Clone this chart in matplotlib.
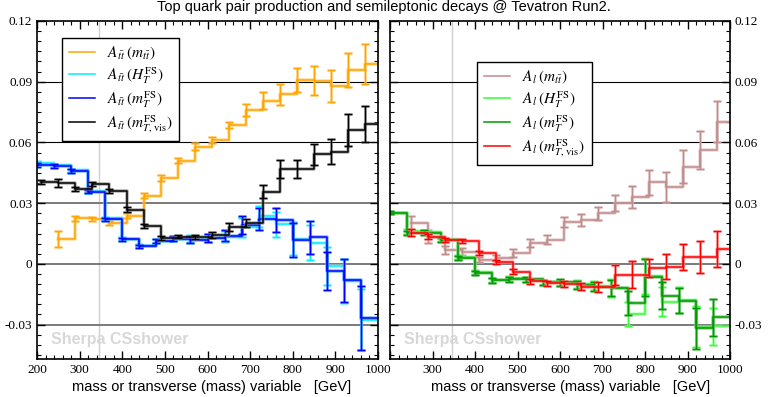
import numpy as np
import matplotlib
matplotlib.use("Agg")
import matplotlib.pyplot as plt
from matplotlib.ticker import MultipleLocator

plt.rcParams["mathtext.fontset"] = "stix"

# datos (x = borde izquierdo del bin, GeV)
x_orange = [250, 290, 330, 370, 410, 450, 490, 530, 570, 610, 650, 690, 730, 770, 810, 850, 890, 930, 970]
y_orange = [0.0123, 0.0226, 0.0221, 0.0201, 0.0237, 0.0336, 0.0423, 0.0510, 0.0579, 0.0612,
            0.0686, 0.0760, 0.0807, 0.0838, 0.0909, 0.0905, 0.0879, 0.0958, 0.0988]
e_orange = [0.0041, 0.0012, 0.0010, 0.0010, 0.0012, 0.0012, 0.0015, 0.0013, 0.0016, 0.0013,
            0.0016, 0.0031, 0.0044, 0.0053, 0.0059, 0.0072, 0.0078, 0.0086, 0.0099]

x_black = [210, 250, 290, 330, 370, 410, 450, 490, 530, 570, 610, 650, 690, 730, 770, 810, 850, 890, 930, 970]
y_black = [0.0405, 0.0400, 0.0370, 0.0393, 0.0360, 0.0267, 0.0188, 0.0127, 0.0135, 0.0135,
           0.0143, 0.0184, 0.0204, 0.0357, 0.0467, 0.0467, 0.0541, 0.0555, 0.0662, 0.0690]
e_black = [0.0010, 0.0020, 0.0012, 0.0010, 0.0010, 0.0012, 0.0010, 0.0010, 0.0008, 0.0010,
           0.0015, 0.0020, 0.0020, 0.0033, 0.0044, 0.0044, 0.0053, 0.0063, 0.0079, 0.0090]

x_blue = [200, 240, 280, 320, 360, 400, 440, 480, 520, 560, 600, 640, 680, 720, 760, 800, 840, 880, 920, 960]
y_blue = [0.0489, 0.0484, 0.0459, 0.0357, 0.0221, 0.0122, 0.0086, 0.0115, 0.0125, 0.0120,
          0.0128, 0.0140, 0.0193, 0.0222, 0.0217, 0.0118, 0.0132, -0.0035, -0.0082, -0.0268]
e_blue = [0.0008, 0.0008, 0.0008, 0.0008, 0.0008, 0.0008, 0.0008, 0.0010, 0.0012, 0.0019,
          0.0020, 0.0029, 0.0045, 0.0053, 0.0058, 0.0082, 0.0081, 0.0095, 0.0107, 0.0160]
y_cyan = [0.0500, 0.0487, 0.0462, 0.0360, 0.0225, 0.0125, 0.0090, 0.0112, 0.0125, 0.0125,
          0.0130, 0.0135, 0.0180, 0.0235, 0.0195, 0.0125, 0.0105, -0.0010, -0.0085, -0.0275]
e_cyan = [0.0008, 0.0008, 0.0008, 0.0008, 0.0008, 0.0008, 0.0008, 0.0010, 0.0012, 0.0018,
          0.0020, 0.0028, 0.0045, 0.0052, 0.0060, 0.0080, 0.0085, 0.0095, 0.0110, 0.0150]

x_brown = [250, 290, 330, 370, 410, 450, 490, 530, 570, 610, 650, 690, 730, 770, 810, 850, 890, 930, 970]
y_brown = [0.0201, 0.0135, 0.0069, 0.0061, 0.0020, 0.0028, 0.0053, 0.0102, 0.0119, 0.0209,
           0.0217, 0.0250, 0.0300, 0.0330, 0.0403, 0.0382, 0.0480, 0.0563, 0.0703]
e_brown = [0.0035, 0.0030, 0.0020, 0.0015, 0.0012, 0.0015, 0.0020, 0.0020, 0.0022, 0.0025,
           0.0028, 0.0033, 0.0040, 0.0055, 0.0062, 0.0074, 0.0082, 0.0093, 0.0101]

x_red = [250, 290, 330, 370, 410, 450, 490, 530, 570, 610, 650, 690, 730, 770, 810, 850, 890, 930, 970]
y_red = [0.0155, 0.0135, 0.0119, 0.0115, 0.0056, 0.0007, -0.0038, -0.0087, -0.0095, -0.0098,
         -0.0112, -0.0115, -0.0054, -0.0054, -0.0021, -0.0013, 0.0036, 0.0036, 0.0072]
e_red = [0.0015, 0.0012, 0.0010, 0.0010, 0.0010, 0.0010, 0.0012, 0.0012, 0.0012, 0.0015,
         0.0018, 0.0025, 0.0050, 0.0066, 0.0045, 0.0063, 0.0064, 0.0079, 0.0088]

x_green = [200, 240, 280, 320, 360, 400, 440, 480, 520, 560, 600, 640, 680, 720, 760, 800, 840, 880, 920, 960]
y_green = [0.0253, 0.0151, 0.0155, 0.0119, 0.0031, -0.0043, -0.0082, -0.0076, -0.0076, -0.0092,
           -0.0092, -0.0104, -0.0112, -0.0120, -0.0194, -0.0066, -0.0158, -0.0181, -0.0318, -0.0263]
e_green = [0.0008, 0.0010, 0.0010, 0.0010, 0.0010, 0.0010, 0.0012, 0.0012, 0.0012, 0.0012,
           0.0015, 0.0018, 0.0022, 0.0040, 0.0060, 0.0092, 0.0066, 0.0064, 0.0102, 0.0091]
y_lgreen = [0.0253, 0.0160, 0.0158, 0.0122, 0.0035, -0.0040, -0.0080, -0.0072, -0.0080, -0.0090,
            -0.0095, -0.0100, -0.0108, -0.0118, -0.0248, -0.0060, -0.0186, -0.0178, -0.0310, -0.0309]
e_lgreen = [0.0008, 0.0010, 0.0010, 0.0010, 0.0010, 0.0010, 0.0012, 0.0012, 0.0012, 0.0012,
            0.0015, 0.0018, 0.0022, 0.0045, 0.0060, 0.0090, 0.0070, 0.0065, 0.0100, 0.0090]

labels_left = [r"$A_{t\bar{t}}\;(m_{t\bar{t}})$", r"$A_{t\bar{t}}\;(H_T^{\rm FS})$",
               r"$A_{t\bar{t}}\;(m_T^{\rm FS})$", r"$A_{t\bar{t}}\;(m_{T,{\rm vis}}^{\rm FS})$"]
labels_right = [r"$A_l\;(m_{t\bar{t}})$", r"$A_l\;(H_T^{\rm FS})$",
                r"$A_l\;(m_T^{\rm FS})$", r"$A_l\;(m_{T,{\rm vis}}^{\rm FS})$"]

yticks = [-0.03, 0, 0.03, 0.06, 0.09, 0.12]
ytick_labels = ["-0.03", "0", "0.03", "0.06", "0.09", "0.12"]
bin_w = 40


def histo(ax, x, y, e, color, light, label=None):
    # histograma escalonado + barras de error en el borde izquierdo del bin
    xe = np.append(x, x[-1] + bin_w)
    ye = np.append(y, y[-1])
    ax.step(xe, ye, where="post", color=light, lw=2.6, alpha=0.6)
    ax.errorbar(x, y, yerr=e, fmt="none", ecolor=light, elinewidth=2.2, capsize=3, capthick=2.2, alpha=0.6)
    ax.step(xe, ye, where="post", color=color, lw=1.1, label=label)
    ax.errorbar(x, y, yerr=e, fmt="none", ecolor=color, elinewidth=1.0, capsize=3, capthick=1.0)


fig = plt.figure(figsize=(7.68, 3.97), dpi=100)
ax1 = fig.add_axes([37 / 768, 38 / 397, 341 / 768, 338 / 397])
ax2 = fig.add_axes([390 / 768, 38 / 397, 340 / 768, 338 / 397])

for ax in (ax1, ax2):
    ax.set_xlim(200, 1000)
    ax.set_ylim(-0.047, 0.12)
    ax.axvline(346, color="#d0d0d0", lw=1, zorder=0)
    for yy in (0.09, 0.06):
        ax.axhline(yy, color="black", lw=0.8, zorder=0)
    for yy in (0.03, 0, -0.03):
        ax.axhline(yy, color="#707070", lw=1.3, zorder=0)
    ax.text(233, -0.0375, "Sherpa CSshower", color="#d8d8d8", fontsize=11.5,
            fontweight="bold", family="Liberation Sans", va="center", zorder=0)
    ax.xaxis.set_major_locator(MultipleLocator(100))
    ax.xaxis.set_minor_locator(MultipleLocator(20))
    ax.set_yticks(yticks)
    ax.yaxis.set_minor_locator(MultipleLocator(0.005))
    ax.tick_params(which="both", direction="in", top=True, bottom=True, left=True, right=True)
    ax.tick_params(which="major", length=6, width=1)
    ax.tick_params(which="minor", length=3, width=0.8)
    for sp in ax.spines.values():
        sp.set_linewidth(1.2)

# panel izquierdo
histo(ax1, x_orange, y_orange, e_orange, "#ffa500", "#ffc966", labels_left[0])
histo(ax1, x_blue, y_cyan, e_cyan, "#00eeff", "#80f4ff", labels_left[1])
histo(ax1, x_blue, y_blue, e_blue, "#0000ff", "#3d8bff", labels_left[2])
histo(ax1, x_black, y_black, e_black, "black", "#808080", labels_left[3])

# panel derecho
histo(ax2, x_brown, y_brown, e_brown, "#c08c8c", "#dcbcbc", labels_right[0])
histo(ax2, x_green, y_lgreen, e_lgreen, "#33ff33", "#99ff99", labels_right[1])
histo(ax2, x_green, y_green, e_green, "#009900", "#66bb66", labels_right[2])
histo(ax2, x_red, y_red, e_red, "#ff0000", "#ff8080", labels_right[3])

ax1.set_yticklabels(ytick_labels, family="Liberation Serif", fontsize=9.5)
ax1.set_xticks([200, 300, 400, 500, 600, 700, 800, 900, 1000])
ax1.set_xticklabels(["200", "300", "400", "500", "600", "700", "800", "900", "1000"],
                    family="Liberation Serif", fontsize=9.5)
ax2.set_xticks([200, 300, 400, 500, 600, 700, 800, 900, 1000])
ax2.set_xticklabels(["", "300", "400", "500", "600", "700", "800", "900", "1000"],
                    family="Liberation Serif", fontsize=9.5)
ax2.yaxis.tick_right()
ax2.tick_params(which="both", left=True, right=True, labelleft=False, labelright=True)
ax2.set_yticklabels(ytick_labels, family="Liberation Serif", fontsize=9.5)

leg1 = ax1.legend(loc="upper left", bbox_to_anchor=(0.073, 0.95), borderaxespad=0,
                  fancybox=False, edgecolor="black", framealpha=1, fontsize=11,
                  handlelength=1.7, handletextpad=0.8, labelspacing=0.2, borderpad=0.45)
leg1.get_frame().set_linewidth(1.0)
leg2 = ax2.legend(loc="upper left", bbox_to_anchor=(0.256, 0.879), borderaxespad=0,
                  fancybox=False, edgecolor="black", framealpha=1, fontsize=11,
                  handlelength=1.7, handletextpad=0.8, labelspacing=0.2, borderpad=0.45)
leg2.get_frame().set_linewidth(1.0)

fig.text(0.5, 1 - 7 / 397, "Top quark pair production and semileptonic decays @ Tevatron Run2.",
         ha="center", va="center", family="Liberation Sans", fontsize=10.5)
fig.text(212 / 768, 1 - 387 / 397, "mass or transverse (mass) variable   [GeV]",
         ha="center", va="center", family="Liberation Sans", fontsize=10.5)
fig.text(571 / 768, 1 - 387 / 397, "mass or transverse (mass) variable   [GeV]",
         ha="center", va="center", family="Liberation Sans", fontsize=10.5)

fig.savefig("out.png", dpi=100)
